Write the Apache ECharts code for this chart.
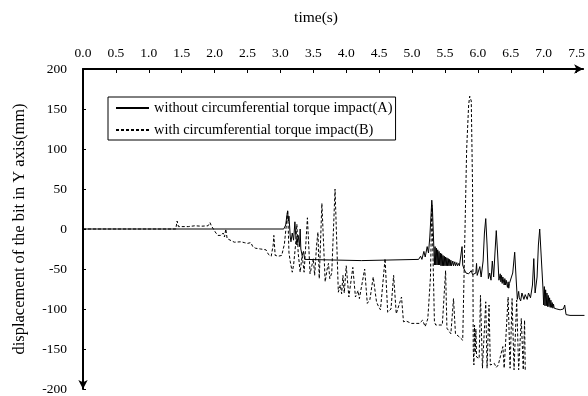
<!DOCTYPE html>
<html>
<head>
<meta charset="utf-8">
<script src="https://cdn.jsdelivr.net/npm/echarts@6/dist/echarts.min.js"></script>
<style>
	html, body { margin: 0; padding: 0; background: #fff; }
	#chart { width: 588px; height: 396px; }
</style>
</head>
<body>
<div id="chart"></div>
<script>
// time ticks (s) and y ticks (mm)
var timeTicks = [0, 0.5, 1, 1.5, 2, 2.5, 3, 3.5, 4, 4.5, 5, 5.5, 6, 6.5, 7, 7.5];
var seriesNames = ['without circumferential torque impact(A)', 'with circumferential torque impact(B)'];

// A: without circumferential torque impact
var timeA = [0, 3.05, 3.08, 3.10, 3.11, 3.12, 3.13, 3.15, 3.16, 3.18, 3.20, 3.22, 3.23, 3.25, 3.27, 3.29, 3.30, 3.31, 3.33, 3.35, 3.37, 3.40,
	4.23, 4.25, 5.10, 5.13, 5.15, 5.18, 5.20, 5.23, 5.25, 5.27, 5.29, 5.30, 5.31, 5.33,
	5.34, 5.35, 5.36, 5.37, 5.38, 5.39, 5.40, 5.41, 5.42, 5.43, 5.44, 5.45, 5.46, 5.47, 5.48, 5.49, 5.50, 5.51, 5.52, 5.53,
	5.54, 5.55, 5.56, 5.57, 5.58, 5.59, 5.60, 5.62, 5.63, 5.65, 5.66, 5.68, 5.69, 5.71, 5.72, 5.74,
	5.75, 5.76, 5.77, 5.79, 5.82, 5.86, 5.90, 5.92, 5.94, 5.97, 5.98, 5.99, 6.01, 6.03, 6.05, 6.08, 6.10, 6.12, 6.14, 6.16, 6.18, 6.20,
	6.22, 6.24, 6.26, 6.28, 6.30, 6.32, 6.34, 6.35, 6.36, 6.37, 6.38, 6.40, 6.41, 6.42, 6.43, 6.45, 6.46, 6.47, 6.48, 6.50, 6.53, 6.56, 6.58, 6.60, 6.62, 6.63, 6.65, 6.67, 6.70,
	6.72, 6.75, 6.77, 6.80, 6.83, 6.85, 6.87, 6.90, 6.92, 6.94, 6.96, 6.99,
	7.00, 7.01, 7.02, 7.03, 7.04, 7.05, 7.06, 7.07, 7.08, 7.09, 7.10, 7.11, 7.12, 7.13, 7.14, 7.15, 7.16, 7.18, 7.20, 7.25,
	7.30, 7.32, 7.34, 7.40, 7.62];
var valueA = [0, 0, 5, 18, 22, 10, 16, -10, -16, -5, -14, 9, -5, -20, -8, -22, 0, -25, -33, -28, -38, -39.5,
	-39.5, -38, -38, -34, -38, -28, -35, -22, -30, -10, 20, 36, 25, -20,
	-45, -22, -45, -24, -45, -26, -45, -28, -45, -30, -46, -31, -46, -33, -46, -34, -46, -35, -46, -36,
	-46, -37, -46, -38, -46, -39, -46, -40, -46, -41, -46, -42, -46, -43, -46, -45,
	-45, -22, -45, -50, -55, -56, -52, -57, -56, -55, -43, -58, -60, -47, -60, -40, -5, 13, -20, -62, -55, -64,
	-40, -60, -30, -2, -30, -64, -56, -66, -58, -68, -60, -70, -62, -70, -64, -73, -66, -74, -68, -70, -55, -29, -60, -88, -78, -86, -90, -80, -88,
	-82, -88, -80, -86, -70, -37, -80, -60, -20, 0, -30, -75,
	-95, -72, -96, -76, -96, -80, -97, -83, -97, -86, -98, -89, -98, -92, -99, -94, -99, -97, -100, -101,
	-100, -95, -107, -108, -108];

// B: with circumferential torque impact
var timeB = [0, 1.41, 1.43, 1.45, 1.60, 1.70, 1.80, 1.90, 1.93, 1.95, 1.98, 2.02, 2.05, 2.10, 2.13, 2.15, 2.17, 2.19, 2.25, 2.30,
	2.40, 2.45, 2.50, 2.53, 2.55, 2.58, 2.62, 2.70, 2.78, 2.82, 2.86, 2.89, 2.90, 2.92, 2.97, 3.02, 3.06, 3.09, 3.11, 3.13,
	3.15, 3.18, 3.20, 3.23, 3.25, 3.27, 3.30, 3.33, 3.36, 3.41, 3.43, 3.45, 3.48, 3.50, 3.52, 3.55, 3.57, 3.59, 3.63, 3.68,
	3.71, 3.73, 3.75, 3.78, 3.83, 3.88, 3.91, 3.93, 3.95, 3.97, 4.00, 4.04, 4.10, 4.14, 4.18, 4.20, 4.28, 4.32, 4.36, 4.41,
	4.46, 4.48, 4.52, 4.59, 4.63, 4.68, 4.72, 4.76, 4.78, 4.84, 4.87, 4.91, 4.99, 5.11, 5.16, 5.20, 5.24, 5.28, 5.30, 5.32,
	5.34, 5.36, 5.46, 5.49, 5.51, 5.53, 5.56, 5.59, 5.63, 5.66, 5.72, 5.77, 5.79, 5.83, 5.86, 5.876, 5.90, 5.92, 5.93, 5.94,
	5.95, 5.96, 5.97, 5.98, 6.02, 6.04, 6.07, 6.12, 6.14, 6.17, 6.19, 6.22, 6.25, 6.28, 6.31, 6.34, 6.38, 6.40, 6.46, 6.49,
	6.52, 6.55, 6.59, 6.62, 6.66, 6.69, 6.71, 6.72];
var valueB = [0, 0, 10, 3, 3, 4, 3.5, 4, 8, 4, 3, -5, -8, -8, -5, -10, 0, -12, -14.5, -16.5,
	-16, -17, -18, -20, -17, -22, -24, -25, -26, -32, -34, -20, -8, -33, -34, -33, -19, 5, 24, -30,
	-41, -54, -45, -20, 6, -30, -54, -33, -54, 14, -20, -56, -45, -37, -58, -20, -4, -62, 32, -66,
	-50, -43, -62, -55, 50, -79, -70, -81, -58, -80, -46, -85, -48, -85, -77, -87, -50, -93, -88, -60,
	-91, -95, -101, -37, -104, -100, -58, -106, -108, -85, -116, -115, -118, -118, -114, -122, -112, -60, 30, -40,
	-116, -120, -120, -122, -52, -124, -126, -131, -87, -131, -135, -139, -141, 100, 155, 166, 160, 50, -150, -170,
	-120, -155, -125, -160, -162, -83, -174, -91, -174, -95, -170, -172, -168, -173, -170, -172, -147, -174, -85, -174,
	-87, -176, -89, -176, -112, -176, -114, -176];

function zip(ts, vs) {
	var out = [];
	for (var i = 0; i < ts.length; i++) {
		out.push([ts[i], vs[i]]);
	}
	return out;
}

var font = 'Liberation Serif';
var myChart = echarts.init(document.getElementById('chart'), null, {renderer: 'canvas'});
var option = {
	backgroundColor: '#fff',
	animation: false,
	textStyle: {fontFamily: font, color: '#000'},
	grid: {left: 83, right: 2, top: 69, bottom: 6},
	legend: {
		orient: 'vertical',
		left: 108,
		top: 97,
		data: seriesNames,
		borderColor: '#000',
		borderWidth: 1,
		padding: [4, 3, 3, 7],
		itemGap: 8,
		itemWidth: 33,
		itemHeight: 14,
		itemStyle: {opacity: 0},
		textStyle: {fontFamily: font, fontSize: 14.4, color: '#000'}
	},
	xAxis: {
		type: 'value',
		position: 'top',
		min: 0,
		max: 7.6,
		name: 'time(s)',
		nameLocation: 'middle',
		nameGap: 43,
		nameTextStyle: {fontFamily: font, fontSize: 15.5, color: '#000', padding: [0, 34, 0, 0]},
		splitLine: {show: false},
		axisLine: {
			onZero: false,
			symbol: ['none', 'arrow'],
			symbolSize: [7, 9],
			lineStyle: {color: '#000', width: 2}
		},
		axisTick: {
			inside: true,
			length: 4,
			customValues: timeTicks,
			lineStyle: {color: '#000', width: 1}
		},
		axisLabel: {
			margin: 9,
			customValues: timeTicks,
			formatter: function(v) {
				return v.toFixed(1);
			},
			fontFamily: font,
			fontSize: 13.5,
			color: '#000'
		}
	},
	yAxis: {
		type: 'value',
		min: -200,
		max: 200,
		interval: 50,
		name: 'displacement of the bit in Y axis(mm)',
		nameLocation: 'middle',
		nameGap: 55,
		nameTextStyle: {fontFamily: font, fontSize: 16.5, color: '#000'},
		splitLine: {show: false},
		axisLine: {
			onZero: false,
			symbol: ['arrow', 'none'],
			symbolSize: [7, 9],
			lineStyle: {color: '#000', width: 2}
		},
		axisTick: {
			inside: true,
			length: 3,
			lineStyle: {color: '#000', width: 1}
		},
		axisLabel: {
			margin: 16,
			fontFamily: font,
			fontSize: 13.5,
			color: '#000'
		}
	},
	series: [{
		name: seriesNames[0],
		type: 'line',
		z: 3,
		symbol: 'none',
		lineStyle: {color: '#000', width: 1},
		itemStyle: {color: '#000'},
		data: zip(timeA, valueA)
	}, {
		name: seriesNames[1],
		type: 'line',
		z: 2,
		symbol: 'none',
		lineStyle: {color: '#000', width: 1, type: [3, 2]},
		itemStyle: {color: '#000'},
		data: zip(timeB, valueB)
	}]
};
myChart.setOption(option);
</script>
</body>
</html>
